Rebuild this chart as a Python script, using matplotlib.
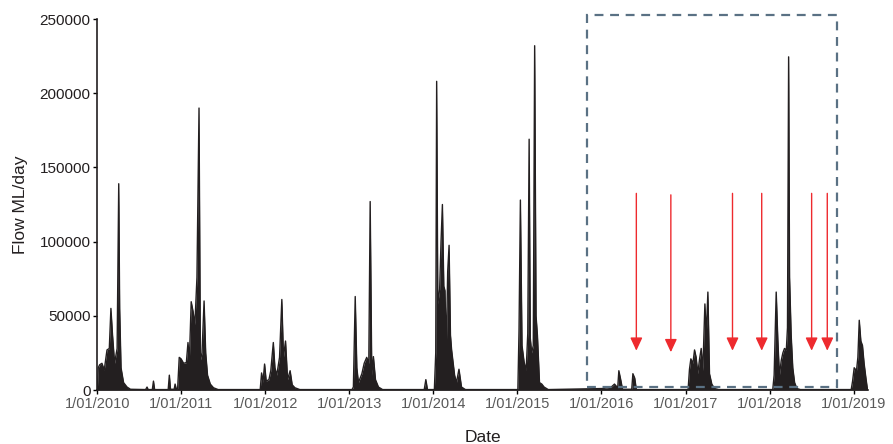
import numpy as np
import pandas as pd
import matplotlib
matplotlib.use('Agg')
import matplotlib.pyplot as plt
import matplotlib.dates as mdates
from matplotlib.patches import Rectangle

plt.rcParams['font.family'] = ['Liberation Sans', 'DejaVu Sans']

# daily flow (peaks and troughs of each wet season)
flow_dates = [
    # 2009-10 season
    '2010-01-01', '2010-01-05', '2010-01-11', '2010-01-21', '2010-01-31', '2010-02-12',
    '2010-02-22', '2010-03-01', '2010-03-08', '2010-03-17', '2010-03-28', '2010-04-04',
    '2010-04-08', '2010-04-14', '2010-04-25', '2010-05-10', '2010-05-25',
    '2010-07-30', '2010-08-05', '2010-08-10', '2010-08-28', '2010-09-02', '2010-09-07',
    '2010-11-05', '2010-11-10', '2010-11-15', '2010-12-01', '2010-12-05', '2010-12-10',
    # 2010-11
    '2010-12-16', '2010-12-23', '2010-12-31', '2011-01-11', '2011-01-23', '2011-01-30',
    '2011-02-05', '2011-02-13', '2011-02-21', '2011-03-01', '2011-03-10', '2011-03-19',
    '2011-03-25', '2011-04-01', '2011-04-10', '2011-04-17', '2011-04-25', '2011-05-07',
    '2011-05-21', '2011-06-10',
    # 2011-12
    '2011-12-10', '2011-12-16', '2011-12-22', '2011-12-29', '2012-01-05', '2012-01-17',
    '2012-01-25', '2012-02-05', '2012-02-12', '2012-02-20', '2012-03-03', '2012-03-13',
    '2012-03-20', '2012-03-29', '2012-04-07', '2012-04-18', '2012-04-27', '2012-05-09',
    '2012-05-30',
    # 2012-13
    '2013-01-12', '2013-01-18', '2013-01-26', '2013-02-02', '2013-02-09', '2013-02-24',
    '2013-03-06', '2013-03-17', '2013-03-26', '2013-04-01', '2013-04-08', '2013-04-15',
    '2013-04-24', '2013-05-07', '2013-05-25',
    '2013-11-22', '2013-11-29', '2013-12-06',
    # 2013-14
    '2014-01-05', '2014-01-11', '2014-01-15', '2014-01-20', '2014-01-28', '2014-02-03',
    '2014-02-09', '2014-02-15', '2014-02-20', '2014-02-26', '2014-03-04', '2014-03-10',
    '2014-03-16', '2014-03-21', '2014-03-27', '2014-04-03', '2014-04-11', '2014-04-22',
    '2014-05-03', '2014-05-20',
    # 2014-15
    '2015-01-03', '2015-01-08', '2015-01-14', '2015-01-21', '2015-01-30', '2015-02-08',
    '2015-02-15', '2015-02-21', '2015-02-26', '2015-03-04', '2015-03-11', '2015-03-17',
    '2015-03-23', '2015-03-29', '2015-04-07', '2015-04-17', '2015-04-27', '2015-05-15',
    # 2015-16
    '2016-01-08', '2016-02-13', '2016-02-27', '2016-03-12', '2016-03-17', '2016-03-25',
    '2016-04-02', '2016-05-12', '2016-05-17', '2016-05-25', '2016-06-01',
    # 2016-17
    '2017-01-12', '2017-01-18', '2017-01-24', '2017-02-02', '2017-02-09', '2017-02-16',
    '2017-02-23', '2017-03-03', '2017-03-10', '2017-03-17', '2017-03-26', '2017-04-01',
    '2017-04-08', '2017-04-15', '2017-04-25', '2017-05-07', '2017-05-25',
    # 2017-18
    '2018-01-15', '2018-01-21', '2018-01-30', '2018-02-06', '2018-02-13', '2018-02-21',
    '2018-02-28', '2018-03-07', '2018-03-15', '2018-03-20', '2018-03-25', '2018-03-29',
    '2018-04-05', '2018-04-12', '2018-04-20', '2018-04-30', '2018-05-15',
    # 2018-19
    '2018-12-22', '2018-12-28', '2019-01-04', '2019-01-14', '2019-01-20', '2019-01-26',
    '2019-02-02', '2019-02-09', '2019-02-16', '2019-02-24', '2019-03-03',
]
flow_ml = [
    0, 15000, 17000, 18000, 13500, 27000,
    28000, 55000, 37000, 18000, 28000, 139000,
    55000, 15000, 5000, 2000, 500,
    300, 2000, 300, 300, 6000, 300,
    300, 10000, 500, 500, 4000, 800,
    800, 22000, 21000, 18000, 18500, 32000,
    20000, 59500, 53000, 44000, 76000, 190000,
    20000, 25000, 60000, 25000, 10000, 4000,
    1500, 300,
    300, 11500, 5000, 17500, 6000, 7000,
    13000, 32000, 15000, 10000, 22000, 61000,
    22000, 33000, 7000, 13000, 3500, 1500,
    300,
    300, 2000, 63000, 15000, 5000, 11000,
    18000, 22000, 18000, 127000, 10000, 22500,
    7000, 2000, 300,
    300, 7000, 300,
    300, 25000, 208000, 58000, 68000, 100000,
    125000, 70000, 67000, 27000, 80000, 97500,
    37000, 27000, 19000, 10000, 5000, 14000,
    2000, 300,
    300, 40000, 128000, 30000, 19000, 13000,
    38000, 169000, 35000, 25000, 30000, 232000,
    50000, 37000, 5000, 4000, 2000, 300,
    1000, 2000, 4000, 1500, 13000, 7000,
    500, 500, 11000, 8000, 300,
    300, 14000, 21000, 18000, 27000, 22000,
    11000, 21000, 28000, 13000, 58000, 37000,
    66000, 11000, 4000, 1000, 300,
    300, 10000, 66000, 34000, 10000, 20000,
    25000, 28000, 27000, 42000, 224500, 76000,
    37000, 15000, 5000, 1000, 300,
    300, 6000, 15000, 13000, 22000, 47000,
    33000, 30000, 18000, 8000, 0,
]

# red arrows (dates) and the dashed box around 2016-2018
arrow_dates = ['2016-06-01', '2016-10-29', '2017-07-24', '2017-11-28', '2018-07-03', '2018-09-09']
arrow_top = [132500, 131500, 132500, 132500, 132500, 132500]
arrow_tip = [26500, 25500, 26500, 26500, 26500, 26500]
box_start, box_end = '2015-10-31', '2018-10-22'
box_low, box_high = 1800, 252700

years = list(range(2010, 2020))
year_labels = ['1/01/%d' % y for y in years]

dates = pd.to_datetime(flow_dates)
fig = plt.figure(figsize=(8.93, 4.44), dpi=100)
ax = fig.add_axes([0.109, 0.1216, 0.863, 0.8356])

ax.fill_between(dates, 0, flow_ml, color='#231f20', lw=0)
ax.plot(dates, flow_ml, color='#231f20', lw=1.0)

x0 = mdates.date2num(pd.Timestamp(box_start))
x1 = mdates.date2num(pd.Timestamp(box_end))
ax.add_patch(Rectangle((x0, box_low), x1 - x0, box_high - box_low, fill=False,
                       edgecolor='#5a7184', lw=1.6, ls=(0, (4, 3)), clip_on=False, zorder=3))

for d, top, tip in zip(arrow_dates, arrow_top, arrow_tip):
    xd = pd.Timestamp(d)
    ax.annotate('', xy=(xd, tip), xytext=(xd, top),
                arrowprops=dict(arrowstyle='-|>,head_width=0.35,head_length=0.75',
                                color='#ee2a2e', lw=1.0, shrinkA=0, shrinkB=0,
                                mutation_scale=10.5))

ax.set_xlim(pd.Timestamp('2010-01-01'), pd.Timestamp('2019-03-05'))
ax.set_ylim(0, 250000)
ax.set_xticks([pd.Timestamp('%d-01-01' % y) for y in years])
ax.set_xticklabels(year_labels, color='#595959', fontsize=10.5)
ax.set_yticks(range(0, 250001, 50000))
ax.set_yticklabels([str(v) for v in range(0, 250001, 50000)], color='#231f20', fontsize=11)
ax.tick_params(direction='out', length=3, width=1, pad=2)
for s in ['top', 'right']:
    ax.spines[s].set_visible(False)
for s in ['left', 'bottom']:
    ax.spines[s].set_linewidth(1.2)
    ax.spines[s].set_color('#231f20')
ax.set_xlabel('Date', fontsize=12.5, labelpad=14, color='#231f20')
ax.set_ylabel('Flow ML/day', fontsize=12.5, labelpad=8, color='#231f20')

fig.savefig('out.png', dpi=100)
